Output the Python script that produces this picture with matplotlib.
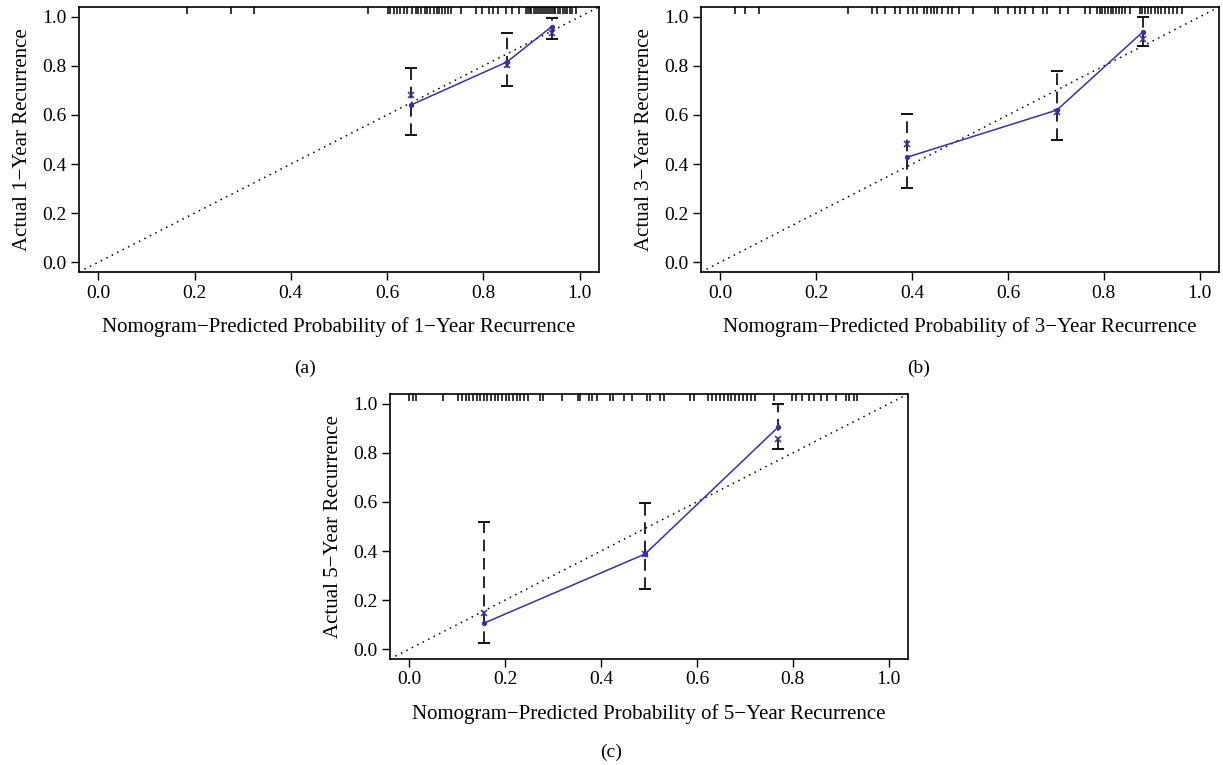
import numpy as np
import matplotlib.pyplot as plt

plt.rcParams['font.family'] = ['Liberation Serif', 'DejaVu Serif']

# predicted probability groups, observed (apparent), bias-corrected and 95% CI
pred_1y = [0.65, 0.849, 0.942]
obs_1y = [0.641, 0.816, 0.960]
corr_1y = [0.682, 0.804, 0.935]
lo_1y = [0.518, 0.718, 0.910]
hi_1y = [0.792, 0.935, 0.996]

pred_3y = [0.390, 0.702, 0.882]
obs_3y = [0.428, 0.620, 0.940]
corr_3y = [0.481, 0.611, 0.908]
lo_3y = [0.302, 0.500, 0.880]
hi_3y = [0.603, 0.778, 0.998]

pred_5y = [0.156, 0.492, 0.770]
obs_5y = [0.106, 0.388, 0.906]
corr_5y = [0.147, 0.388, 0.857]
lo_5y = [0.024, 0.245, 0.816]
hi_5y = [0.518, 0.596, 1.000]

# distribution of predicted probabilities (rug along the top)
rug_1y = [0.185, 0.276, 0.324, 0.560, 0.601, 0.607, 0.614, 0.620, 0.628, 0.636,
          0.641, 0.652, 0.660, 0.664, 0.671, 0.678, 0.683, 0.690, 0.697, 0.703,
          0.708, 0.714, 0.720, 0.727, 0.733, 0.754, 0.785, 0.798, 0.812, 0.820,
          0.831, 0.847, 0.860, 0.874, 0.888, 0.892, 0.897, 0.900, 0.905, 0.910,
          0.914, 0.918, 0.922, 0.926, 0.930, 0.934, 0.938, 0.942, 0.946, 0.950,
          0.955, 0.960, 0.965, 0.970, 0.975, 0.980, 0.985, 0.992]
rug_3y = [0.030, 0.051, 0.080, 0.266, 0.316, 0.326, 0.343, 0.364, 0.374, 0.391,
          0.401, 0.411, 0.425, 0.432, 0.439, 0.446, 0.453, 0.463, 0.474, 0.484,
          0.497, 0.528, 0.573, 0.580, 0.601, 0.615, 0.625, 0.635, 0.653, 0.674,
          0.681, 0.708, 0.725, 0.760, 0.771, 0.785, 0.791, 0.797, 0.803, 0.808,
          0.814, 0.819, 0.825, 0.831, 0.838, 0.845, 0.854, 0.875, 0.880, 0.886,
          0.893, 0.899, 0.906, 0.912, 0.920, 0.927, 0.935, 0.944, 0.953, 0.962]
rug_5y = [0.000, 0.007, 0.014, 0.071, 0.102, 0.110, 0.118, 0.125, 0.133, 0.141,
          0.148, 0.156, 0.163, 0.170, 0.178, 0.186, 0.194, 0.201, 0.209, 0.216,
          0.224, 0.232, 0.240, 0.248, 0.272, 0.278, 0.318, 0.352, 0.356, 0.374,
          0.381, 0.392, 0.419, 0.426, 0.447, 0.465, 0.496, 0.503, 0.524, 0.531,
          0.586, 0.593, 0.624, 0.632, 0.640, 0.648, 0.656, 0.664, 0.672, 0.680,
          0.688, 0.696, 0.704, 0.713, 0.722, 0.760, 0.799, 0.806, 0.819, 0.833,
          0.844, 0.858, 0.872, 0.889, 0.910, 0.917, 0.927, 0.934]

ticks = [0.0, 0.2, 0.4, 0.6, 0.8, 1.0]
blue = '#3b30a3'
fs_tick = 14
fs_lab = 15


def calib_panel(ax, pred, obs, corr, lo, hi, rug, year):
    ax.set_xlim(-0.04, 1.04)
    ax.set_ylim(-0.04, 1.04)
    ax.axline((0, 0), slope=1, color='black', lw=1.1, linestyle=(0, (1, 3)))
    ax.vlines(pred, lo, hi, colors='black', lw=1.2, linestyles=(0, (7, 4)))
    ax.plot(pred, lo, linestyle='none', marker='_', ms=9, mew=1.3, color='black')
    ax.plot(pred, hi, linestyle='none', marker='_', ms=9, mew=1.3, color='black')
    ax.plot(pred, obs, color=blue, lw=1.1, marker='o', ms=2.8)
    ax.plot(pred, corr, linestyle='none', marker='x', ms=4, mew=1.1, color=blue)
    ax.vlines(rug, 1.012, 1.04, colors='black', lw=1.1)
    ax.set_xticks(ticks)
    ax.set_yticks(ticks)
    ax.set_xticklabels([f'{t:.1f}' for t in ticks])
    ax.set_yticklabels([f'{t:.1f}' for t in ticks])
    ax.tick_params(direction='out', length=6, width=1, labelsize=fs_tick, pad=3)
    for s in ax.spines.values():
        s.set_linewidth(1.2)
    ax.set_xlabel(f'Nomogram\u2212Predicted Probability of {year}\u2212Year Recurrence',
                  fontsize=fs_lab, labelpad=11)
    ax.set_ylabel(f'Actual {year}\u2212Year Recurrence', fontsize=fs_lab, labelpad=7)


fig = plt.figure(figsize=(12.23, 7.65), dpi=100)
ax_a = fig.add_axes([0.0646, 0.6444, 0.425, 0.3464])
ax_b = fig.add_axes([0.5732, 0.6444, 0.4235, 0.3464])
ax_c = fig.add_axes([0.3189, 0.1386, 0.4235, 0.3464])

calib_panel(ax_a, pred_1y, obs_1y, corr_1y, lo_1y, hi_1y, rug_1y, 1)
calib_panel(ax_b, pred_3y, obs_3y, corr_3y, lo_3y, hi_3y, rug_3y, 3)
calib_panel(ax_c, pred_5y, obs_5y, corr_5y, lo_5y, hi_5y, rug_5y, 5)

fig.text(0.249, 1 - 368 / 765, '(a)', ha='center', va='center', fontsize=fs_tick)
fig.text(0.751, 1 - 368 / 765, '(b)', ha='center', va='center', fontsize=fs_tick)
fig.text(0.500, 1 - 752 / 765, '(c)', ha='center', va='center', fontsize=fs_tick)

fig.savefig('out.png', dpi=100)
